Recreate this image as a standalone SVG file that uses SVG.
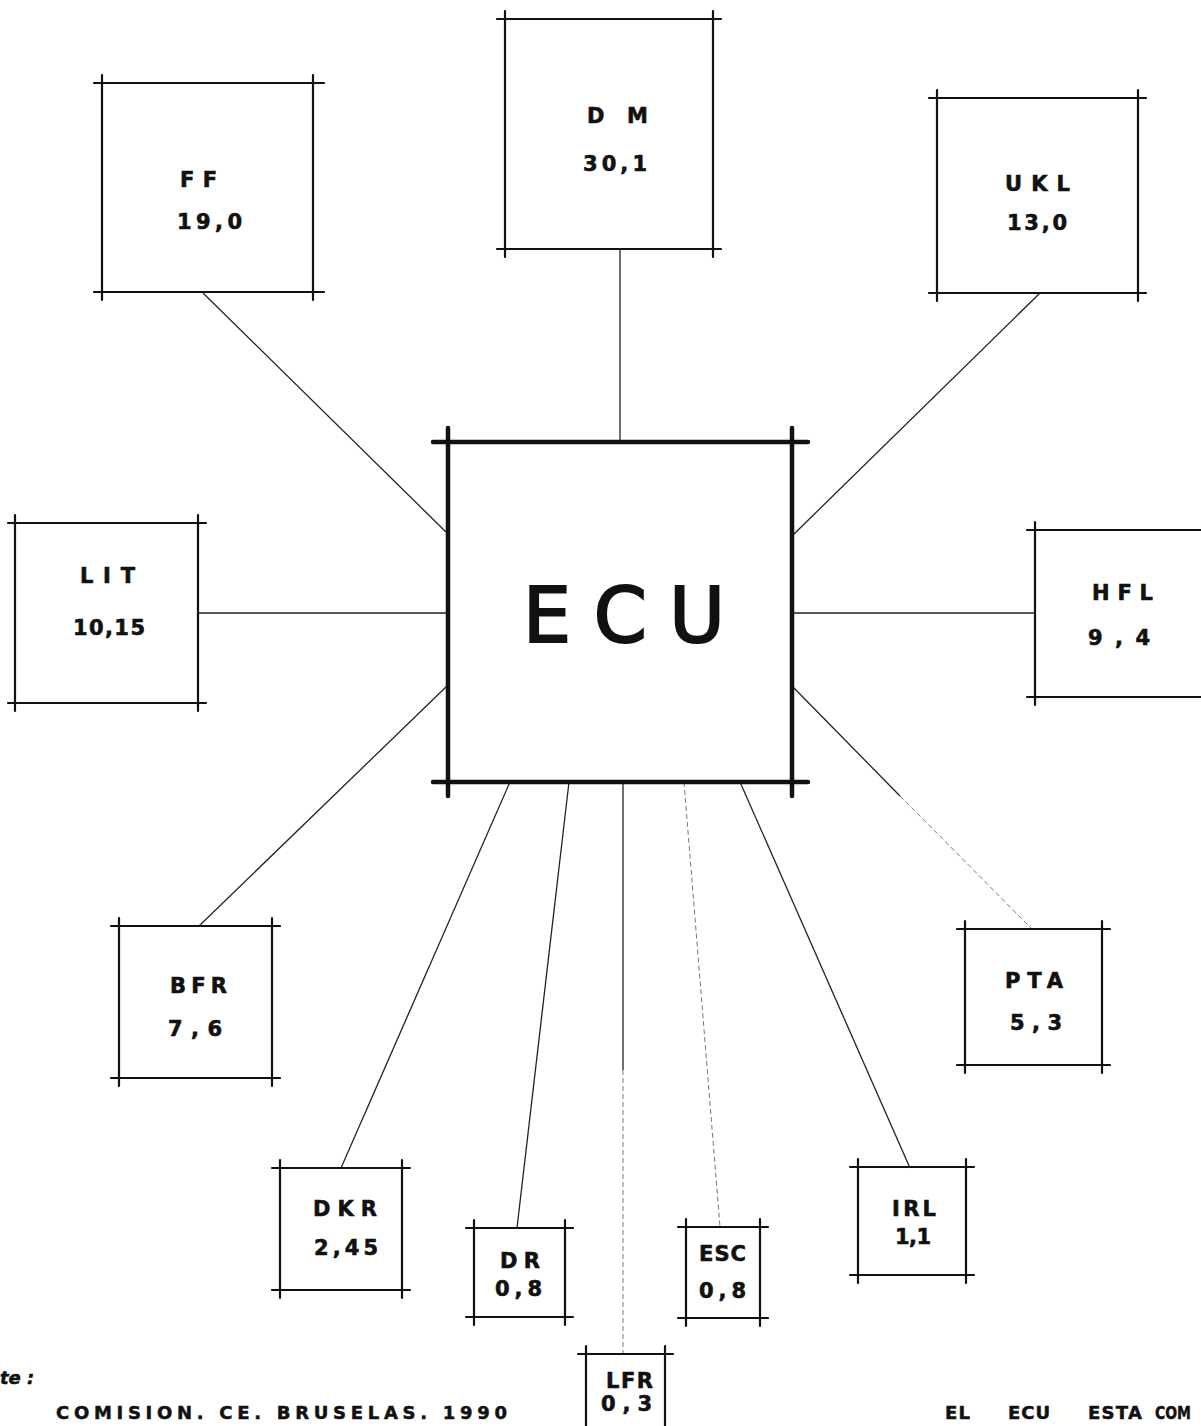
<svg xmlns="http://www.w3.org/2000/svg" width="1201" height="1426" viewBox="0 0 1201 1426">
<style>
.bg{fill:#fff}
.frame{fill:none;stroke:#111;stroke-width:2.2;stroke-linecap:round}
.main{fill:none;stroke:#111;stroke-width:4.5;stroke-linecap:round}
.thin{fill:none;stroke:#222;stroke-width:1.3}
.faint{fill:none;stroke:#777;stroke-width:1;stroke-dasharray:5 3}
.lbl{font-family:"DejaVu Sans","Liberation Sans",sans-serif;font-weight:bold;font-size:21px;fill:#111;stroke:#111;stroke-width:0.6}
.big{font-family:"DejaVu Sans","Liberation Sans",sans-serif;font-size:76px;fill:#111;stroke:#111;stroke-width:2.2}
.foot{font-family:"DejaVu Sans","Liberation Sans",sans-serif;font-weight:bold;font-size:18px;fill:#111;stroke:#111;stroke-width:0.5}
</style>
<rect class="bg" x="0" y="0" width="1201" height="1426"/>

<g id="connectors">
<line class="thin" x1="620" y1="250" x2="620" y2="442"/>
<line class="thin" x1="203" y1="293" x2="446" y2="532"/>
<line class="thin" x1="1040" y1="293" x2="793" y2="535"/>
<line class="thin" x1="198" y1="613" x2="447" y2="613"/>
<line class="thin" x1="793" y1="613" x2="1035" y2="613"/>
<line class="thin" x1="199" y1="926" x2="447" y2="686"/>
<line class="thin" x1="793" y1="687" x2="900" y2="796"/>
<line class="faint" x1="900" y1="796" x2="1032" y2="929"/>
<line class="thin" x1="341" y1="1168" x2="510" y2="782"/>
<line class="thin" x1="517" y1="1228" x2="569" y2="782"/>
<line class="thin" x1="623" y1="782" x2="623" y2="1070"/>
<line class="faint" x1="623" y1="1070" x2="623" y2="1354"/>
<line class="faint" x1="684" y1="782" x2="720" y2="1227"/>
<line class="thin" x1="740" y1="782" x2="910" y2="1168"/>
</g>

<g id="ECU">
<path class="main" d="M433 442H808M448 428V796M792 428V796M433 782H808"/>
<text class="big" x="523" y="642" textLength="202" lengthAdjust="spacing">ECU</text>
</g>

<g id="DM">
<path class="frame" d="M497 19H721M505 11V257M713 11V257M497 249H721"/>
<text class="lbl" x="587" y="123" textLength="61" lengthAdjust="spacing">D M</text>
<text class="lbl" x="583" y="171" textLength="64" lengthAdjust="spacing">30,1</text>
</g>

<g id="FF">
<path class="frame" d="M94 83H324M102 75V300M313 75V300M94 292H324"/>
<text class="lbl" x="180" y="187" textLength="37" lengthAdjust="spacing">F F</text>
<text class="lbl" x="177" y="229" textLength="65" lengthAdjust="spacing">19,0</text>
</g>

<g id="UKL">
<path class="frame" d="M929 98H1146M937 90V301M1138 90V301M929 293H1146"/>
<text class="lbl" x="1005" y="191" textLength="65" lengthAdjust="spacing">UKL</text>
<text class="lbl" x="1007" y="230" textLength="60" lengthAdjust="spacing">13,0</text>
</g>

<g id="LIT">
<path class="frame" d="M8 523H206M15 515V711M198 515V711M8 703H206"/>
<text class="lbl" x="80" y="583" textLength="55" lengthAdjust="spacing">LIT</text>
<text class="lbl" x="73" y="635" textLength="72" lengthAdjust="spacing">10,15</text>
</g>

<g id="HFL">
<path class="frame" d="M1027 530H1201M1035 522V705M1027 697H1201"/>
<text class="lbl" x="1092" y="600" textLength="61" lengthAdjust="spacing">HFL</text>
<text class="lbl" x="1088" y="645" textLength="62" lengthAdjust="spacing">9,4</text>
</g>

<g id="BFR">
<path class="frame" d="M111 926H280M119 918V1086M272 918V1086M111 1078H280"/>
<text class="lbl" x="170" y="993" textLength="57" lengthAdjust="spacing">BFR</text>
<text class="lbl" x="168" y="1036" textLength="54" lengthAdjust="spacing">7,6</text>
</g>

<g id="PTA">
<path class="frame" d="M957 929H1110M965 921V1073M1102 921V1073M957 1065H1110"/>
<text class="lbl" x="1005" y="988" textLength="58" lengthAdjust="spacing">PTA</text>
<text class="lbl" x="1010" y="1030" textLength="52" lengthAdjust="spacing">5,3</text>
</g>

<g id="DKR">
<path class="frame" d="M272 1168H410M280 1160V1298M402 1160V1298M272 1290H410"/>
<text class="lbl" x="313" y="1216" textLength="64" lengthAdjust="spacing">DKR</text>
<text class="lbl" x="314" y="1255" textLength="64" lengthAdjust="spacing">2,45</text>
</g>

<g id="DR">
<path class="frame" d="M466 1228H573M474 1220V1325M565 1220V1325M466 1317H573"/>
<text class="lbl" x="500" y="1268" textLength="40" lengthAdjust="spacing">DR</text>
<text class="lbl" x="495" y="1296" textLength="47" lengthAdjust="spacing">0,8</text>
</g>

<g id="LFR">
<path class="frame" d="M578 1354H673M586 1346V1426M665 1346V1426"/>
<text class="lbl" x="606" y="1388" textLength="47" lengthAdjust="spacing">LFR</text>
<text class="lbl" x="601" y="1411" textLength="51" lengthAdjust="spacing">0,3</text>
</g>

<g id="ESC">
<path class="frame" d="M678 1227H768M686 1219V1326M760 1219V1326M678 1318H768"/>
<text class="lbl" x="699" y="1261" textLength="47" lengthAdjust="spacing">ESC</text>
<text class="lbl" x="699" y="1298" textLength="47" lengthAdjust="spacing">0,8</text>
</g>

<g id="IRL">
<path class="frame" d="M850 1167H974M858 1159V1283M966 1159V1283M850 1275H974"/>
<text class="lbl" x="892" y="1216" textLength="44" lengthAdjust="spacing">IRL</text>
<text class="lbl" x="895" y="1244" textLength="36" lengthAdjust="spacing">1,1</text>
</g>

<g id="footer">
<text class="foot" x="0" y="1384" font-style="italic" font-size="20">te :</text>
<text class="foot" x="56" y="1419" textLength="451" lengthAdjust="spacing">COMISION. CE.  BRUSELAS. 1990</text>
<text class="foot" x="945" y="1419" textLength="25" lengthAdjust="spacing">EL</text>
<text class="foot" x="1008" y="1419" textLength="42" lengthAdjust="spacing">ECU</text>
<text class="foot" x="1088" y="1419" textLength="54" lengthAdjust="spacing">ESTA</text>
<text class="foot" x="1155" y="1419" textLength="36" lengthAdjust="spacingAndGlyphs">COM</text>
</g>
</svg>
